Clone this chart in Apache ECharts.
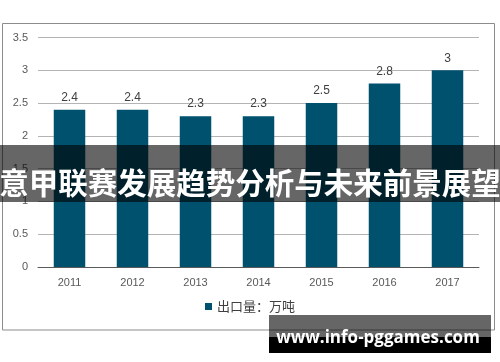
<!DOCTYPE html>
<html>
<head>
<meta charset="utf-8">
<script src="https://cdn.jsdelivr.net/npm/echarts@6/dist/echarts.min.js"></script>
<style>html,body{margin:0;padding:0;background:#fff}#c{width:500px;height:362px}</style>
</head>
<body>
<div id="c"></div>
<script>
var categories = ['2011','2012','2013','2014','2015','2016','2017'];
var exportVolume = [2.4, 2.4, 2.3, 2.3, 2.5, 2.8, 3];
var seriesName = '出口量：万吨';
var bannerText = '意甲联赛发展趋势分析与未来前景展望';
var watermarkText = 'www.info-pggames.com';

var chart = echarts.init(document.getElementById('c'), null, {renderer: 'canvas'});
chart.setOption({
  animation: false,
  backgroundColor: '#ffffff',
  textStyle: {fontFamily: 'Liberation Sans, Arial, sans-serif'},
  grid: {left: 38, right: 21, top: 37.5, bottom: 95, containLabel: false},
  legend: {
    data: [seriesName], bottom: 44, left: 'center',
    itemWidth: 7, itemHeight: 7, itemGap: 4, icon: 'rect',
    textStyle: {color: '#404040', fontSize: 13, fontFamily: 'Noto Sans CJK SC, sans-serif'}
  },
  xAxis: {
    type: 'category', data: categories,
    axisLine: {lineStyle: {color: '#595959', width: 1}},
    axisTick: {show: false},
    axisLabel: {color: '#595959', fontSize: 11, margin: 10}
  },
  yAxis: {
    type: 'value', min: 0, max: 3.5, interval: 0.5,
    axisLine: {show: false}, axisTick: {show: false},
    axisLabel: {color: '#595959', fontSize: 11, margin: 10},
    splitLine: {lineStyle: {color: '#b4b4b4', width: 1}}
  },
  series: [{
    name: seriesName, type: 'bar', data: exportVolume, barWidth: '50%',
    itemStyle: {color: '#00516d'},
    label: {show: true, position: 'top', distance: 6, color: '#404040', fontSize: 12}
  }],
  graphic: [
    {type: 'rect', shape: {x: 2.5, y: 23.5, width: 492, height: 306.5},
     style: {fill: 'none', stroke: '#8c8c8c', lineWidth: 1}, z: 1, silent: true},
    {type: 'rect', shape: {x: 0, y: 145, width: 500, height: 57},
     style: {fill: 'rgba(0,0,0,0.6)'}, z: 100, silent: true},
    {type: 'text', x: 250, y: 183, z: 101, silent: true,
     style: {text: bannerText, fill: '#ffffff', font: 'bold 29.5px "Noto Sans CJK SC", sans-serif',
             textAlign: 'center', textVerticalAlign: 'middle'}},
    {type: 'rect', shape: {x: 269, y: 315, width: 222, height: 22},
     style: {fill: 'rgba(0,0,0,0.6)'}, z: 100, silent: true},
    {type: 'rect', shape: {x: 269, y: 337, width: 222, height: 16},
     style: {fill: '#000000'}, z: 100, silent: true},
    {type: 'text', x: 378, y: 338, z: 101, silent: true,
     style: {text: watermarkText, fill: '#ffffff', font: 'bold 17px "Open Sans", sans-serif',
             textAlign: 'center', textVerticalAlign: 'middle'}}
  ]
});
</script>
</body>
</html>
